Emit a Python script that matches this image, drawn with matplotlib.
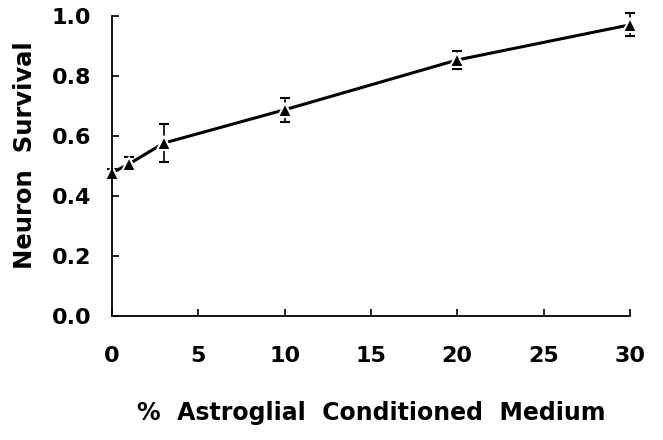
import matplotlib.pyplot as plt

# Data
conc = [0, 1, 3, 10, 20, 30]  # % astroglial conditioned medium
survival = [0.477, 0.507, 0.576, 0.687, 0.853, 0.970]
err = [0.012, 0.022, 0.064, 0.040, 0.031, 0.038]

x_ticks = [0, 5, 10, 15, 20, 25, 30]
y_ticks = [0.0, 0.2, 0.4, 0.6, 0.8, 1.0]

plt.rcParams['font.family'] = ['DejaVu Sans']
plt.rcParams['font.weight'] = 'bold'

fig = plt.figure(figsize=(6.63, 4.4), dpi=100)
ax = fig.add_axes([0.169, 0.282, 0.781, 0.682])

ax.errorbar(conc, survival, yerr=err, color='black', linewidth=2.2,
            elinewidth=1.2, capsize=3.5, capthick=1.2,
            marker='^', markersize=10, markerfacecolor='black',
            markeredgecolor='white', markeredgewidth=1.5, clip_on=False)

ax.set_xlim(0, 30)
ax.set_ylim(0, 1.0)
ax.set_xticks(x_ticks)
ax.set_yticks(y_ticks)
ax.set_yticklabels([f'{v:.1f}' for v in y_ticks])

for s in ['top', 'right']:
    ax.spines[s].set_visible(False)
for s in ['left', 'bottom']:
    ax.spines[s].set_linewidth(1.3)

ax.tick_params(direction='in', length=5, width=1.2, labelsize=16)
ax.tick_params(axis='x', pad=22)
ax.tick_params(axis='y', pad=15)

ax.set_xlabel('%  Astroglial  Conditioned  Medium', fontsize=17,
              fontweight='bold')
ax.xaxis.set_label_coords(0.5, -0.285)
ax.set_ylabel('Neuron  Survival', fontsize=17.5, fontweight='bold')
ax.yaxis.set_label_coords(-0.145, 0.537)

fig.savefig('out.png', dpi=100)
